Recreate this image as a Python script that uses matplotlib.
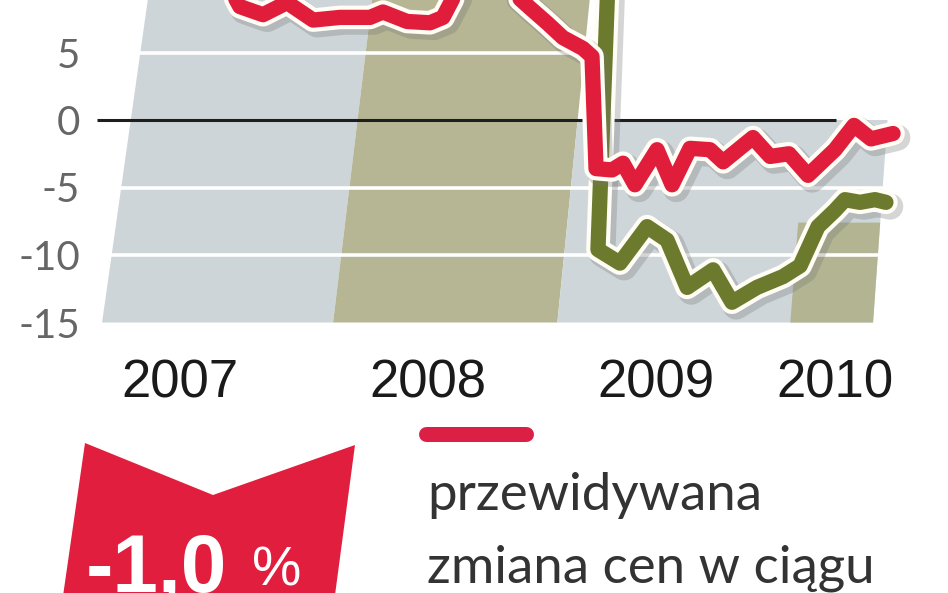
import matplotlib
matplotlib.use('Agg')
import matplotlib.pyplot as plt
import matplotlib.patheffects as pe
from matplotlib.lines import Line2D
from matplotlib.patches import Polygon

# months counted from Jan 2007, values in %
red_months = [4.94, 5.71, 6.91, 8.16, 9.51, 10.91, 12.47, 13.14, 14.39, 15.58, 16.26,
              17.14, 18.70, 20.0, 20.78, 21.66, 22.49, 23.53, 24.0, 24.21, 25.04,
              25.61, 26.23, 27.38, 28.16, 29.09, 30.13, 30.81, 32.36, 33.25, 34.23,
              35.22, 36.62, 37.61, 38.49, 39.64]
red_values = [10.4, 8.4, 7.8, 8.7, 7.4, 7.6, 7.6, 8.0, 7.3, 7.2, 7.6,
              10.0, 10.4, 9.3, 8.3, 7.2, 6.1, 5.3, 4.7, -3.6, -3.7,
              -3.2, -4.8, -2.2, -4.8, -2.1, -2.2, -3.1, -1.3, -2.7, -2.5,
              -4.1, -2.2, -0.4, -1.4, -1.0]

green_months = [0, 12, 24.9, 24.31, 25.45, 26.86, 27.9, 28.94, 30.29, 31.27, 32.57,
                33.92, 34.81, 35.74, 36.62, 37.14, 37.92, 38.70, 39.27]
green_values = [13, 14, 13, -9.6, -10.6, -7.9, -8.9, -12.4, -11.1, -13.5, -12.4,
                -11.6, -10.8, -7.9, -6.7, -5.9, -6.1, -5.9, -6.1]

year_labels = ['2007', '2008', '2009', '2010']
year_label_pos = [2.6, 15.5, 27.3, 36.6]
yticks = [5, 0, -5, -10, -15]
ytick_labels = ['5', '0', '-5', '-10', '-15']

legend_text = ['przewidywana', 'zmiana cen w ciągu']
badge_text = '-1,0'

RED = '#e11d3c'
GREEN = '#6b7a2c'

# background bands (bottom edge positions in months, leaning in perspective)
band_left = [-1.45, 10.55, 22.2, 34.3]
band_right = [10.55, 22.2, 38.6, 38.6]
band_top = [12, 12, 0, -7.6]
band_colors = ['#cdd5d8', '#b6b695', '#cfd6d9', '#b3b491']
vp_m, vp_depth, v_base = 79.5, 815.0, -15.0


def edge(mb, v):
    return mb + (vp_m - mb) * (v - v_base) / vp_depth


W, H = 948, 593
fig = plt.figure(figsize=(W / 100, H / 100), dpi=100)
fig.patch.set_facecolor('white')

ax = fig.add_axes([0, (H - 340) / H, 1, 340 / H])
ax.set_xlim(-130 / 19.25, (W - 130) / 19.25)
ax.set_ylim((120 - 340) / 13.5, 120 / 13.5)
ax.patch.set_alpha(0)
for s in ax.spines.values():
    s.set_visible(False)

for l, r, t, c in zip(band_left, band_right, band_top, band_colors):
    xs = [edge(l, v_base), edge(r, v_base), edge(r, t), edge(l, t)]
    ys = [v_base, v_base, t, t]
    ax.fill(xs, ys, color=c, lw=0, zorder=1)

for g in [5, -5, -10]:
    ax.axhline(g, color='white', lw=2.6, zorder=1.5)
ax.hlines(0, -1.71, 36.7, color='#1e1e1e', lw=2.2, zorder=2)

lw = 11
fx = [pe.SimpleLineShadow(offset=(3, -3), shadow_color='#777777', alpha=0.3, linewidth=lw + 8),
      pe.Stroke(linewidth=lw + 6, foreground='#fffdf5'), pe.Normal()]
ax.plot(green_months, green_values, color=GREEN, lw=lw, solid_capstyle='round',
        solid_joinstyle='round', zorder=3, path_effects=fx)
ax.plot(red_months, red_values, color=RED, lw=lw, solid_capstyle='round',
        solid_joinstyle='round', zorder=4, path_effects=fx)

ax.set_yticks(yticks)
ax.set_yticklabels(ytick_labels, fontfamily='Lato')
ax.tick_params(axis='y', direction='in', length=0, pad=-57.6, labelsize=29,
               labelcolor='#666666')
ax.set_xticks(year_label_pos)
ax.set_xticklabels(year_labels, fontfamily='Liberation Sans')
ax.tick_params(axis='x', length=0, pad=13, labelsize=38, labelcolor='#1a1a1a')

# legend
fig.add_artist(Line2D([425.5 / W, 525.5 / W], [1 - 434 / H] * 2, transform=fig.transFigure,
                      lw=10.8, color='#dc1f45', solid_capstyle='round'))
fig.text(427 / W, 1 - 510 / H, legend_text[0], fontsize=38, family='Lato',
         color='#333333', va='baseline')
fig.text(427 / W, 1 - 583 / H, legend_text[1], fontsize=38, family='Lato',
         color='#333333', va='baseline')

# red badge
badge = Polygon([(85 / W, 1 - 443 / H), (213 / W, 1 - 495 / H), (355 / W, 1 - 445 / H),
                 (333 / W, 1 - 610 / H), (61 / W, 1 - 610 / H)],
                closed=True, transform=fig.transFigure, color='#e21e3e', lw=0)
fig.add_artist(badge)
fig.text(86 / W, 1 - 591 / H, badge_text, fontsize=59, fontweight='bold',
         family='Liberation Sans', color='white', va='baseline')
fig.text(252 / W, 1 - 586 / H, '%', fontsize=40, family='Liberation Sans',
         color='white', va='baseline')

fig.savefig('out.png', dpi=100)
